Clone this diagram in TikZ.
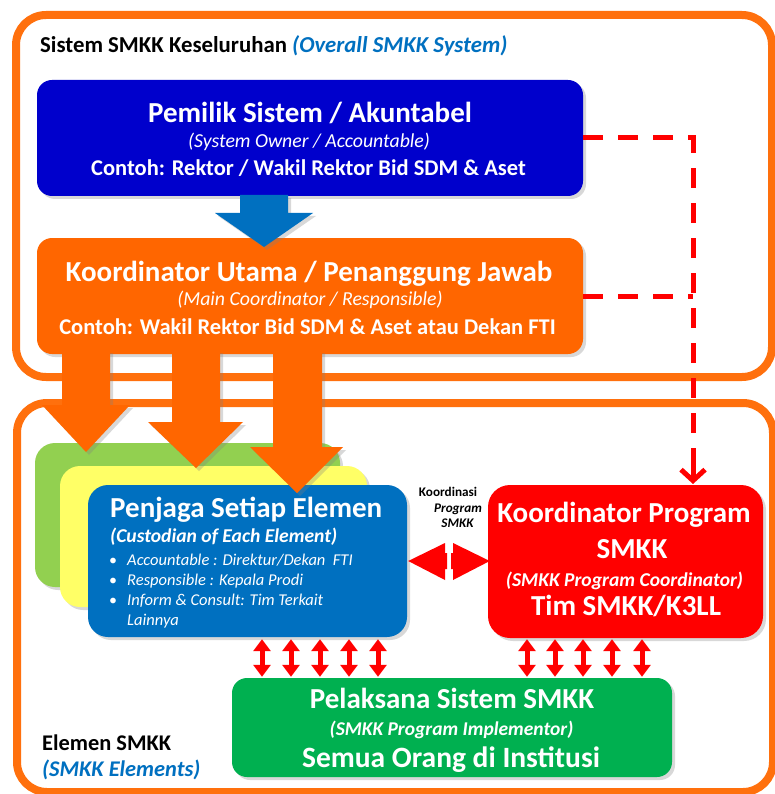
\documentclass[tikz,border=0pt]{standalone}
\usepackage{fontspec}
\setmainfont{Carlito}
\usetikzlibrary{shadows,arrows.meta,calc}
\definecolor{ownerblue}{HTML}{0000CC}
\definecolor{midblue}{HTML}{0070C0}
\definecolor{orng}{HTML}{FF6600}
\definecolor{frameorange}{HTML}{FF700D}
\definecolor{rd}{HTML}{FF0000}
\definecolor{grn}{HTML}{00B050}
\definecolor{lgrn}{HTML}{92D050}
\definecolor{yel}{HTML}{FFFF66}
\newcommand\fsz[1]{\fontsize{#1}{#1}\selectfont}
\tikzset{
  box/.style={rectangle, rounded corners=15pt, draw=none, inner sep=0pt,
    drop shadow={shadow xshift=3pt, shadow yshift=-3pt, opacity=0.3}},
  frame/.style={draw=frameorange, line width=8pt, rounded corners=30pt},
  txt/.style={anchor=base, inner sep=0pt, text=white},
  lbl/.style={anchor=base west, inner sep=0pt, text=black},
  dashlink/.style={draw=rd, line width=5pt, dash pattern=on 20pt off 15pt},
  vdbl/.style={draw=rd, line width=5pt,
    {Triangle[length=12pt,width=17pt]}-{Triangle[length=12pt,width=17pt]}},
  blockarrow/.style={draw=none, drop shadow={shadow xshift=3pt, shadow yshift=-3pt, opacity=0.3}},
}
\begin{document}
\begin{tikzpicture}[x=1pt,y=-1pt]
\useasboundingbox (0,0) rectangle (775,794);
\clip (0,0) rectangle (775,794);
\fill[white] (0,0) rectangle (775,794);

% frames
\draw[frame] (16,15) rectangle (772,377);
\draw[frame] (17,403) rectangle (773,792);

% header labels
\node[lbl, font=\fsz{22.8}\bfseries] (hdr) at (40,53) {Sistem SMKK Keseluruhan \textcolor{midblue}{\itshape(Overall SMKK System)}};
\node[lbl, font=\fsz{22.4}\bfseries] (elm1) at (42,750) {Elemen SMKK};
\node[lbl, font=\fsz{22.4}\bfseries\itshape, text=midblue] (elm2) at (42,776) {(SMKK Elements)};

% top boxes
\node[box, fill=ownerblue, minimum width=546pt, minimum height=116pt] (owner) at (310,138) {};
\node[box, fill=orng, minimum width=546pt, minimum height=116pt] (coord) at (310,296) {};

% element stack
\node[box, fill=lgrn, rounded corners=20pt, minimum width=305pt, minimum height=144pt] (back1) at (187.5,515) {};
\node[box, fill=yel, rounded corners=20pt, minimum width=307pt, minimum height=141pt] (back2) at (213.5,536.5) {};
\node[box, fill=midblue, rounded corners=20pt, minimum width=319pt, minimum height=152pt] (elem) at (247.5,561) {};

% program coordinator
\node[box, fill=rd, rounded corners=22pt, minimum width=275pt, minimum height=153pt] (prog) at (625.5,561.5) {};

% implementor
\node[box, fill=grn, rounded corners=15pt, minimum width=440pt, minimum height=99pt] (impl) at (452,727.5) {};

% block arrows
\fill[blockarrow, fill=midblue] (240,195) -- (288,195) -- (288,213) -- (313,213) -- (264,247) -- (215,213) -- (240,213) -- cycle;
\fill[blockarrow, fill=orng] (62,350) -- (110,350) -- (110,405) -- (130,405) -- (86,452) -- (42,405) -- (62,405) -- cycle;
\fill[blockarrow, fill=orng] (172,350) -- (220,350) -- (220,422) -- (243,422) -- (196,468) -- (148,422) -- (172,422) -- cycle;
\fill[blockarrow, fill=orng] (273,350) -- (322,350) -- (322,447) -- (343,447) -- (297,493) -- (250,447) -- (273,447) -- cycle;

% texts: owner
\node[txt, font=\fsz{29}\bfseries] (o1) at (310,123) {Pemilik Sistem / Akuntabel};
\node[txt, font=\fsz{19.8}\itshape] (o2) at (309,148) {(System Owner / Accountable)};
\node[txt, font=\fsz{22.5}\bfseries] (o3) at (308.5,176) {Contoh: Rektor / Wakil Rektor Bid SDM \& Aset};

% texts: coordinator
\node[txt, font=\fsz{29}\bfseries] (c1) at (309,281) {Koordinator Utama / Penanggung Jawab};
\node[txt, font=\fsz{19.8}\itshape] (c2) at (310,305) {(Main Coordinator / Responsible)};
\node[txt, font=\fsz{22.5}\bfseries] (c3) at (307.5,334) {Contoh: Wakil Rektor Bid SDM \& Aset atau Dekan FTI};

% texts: element
\node[txt, anchor=base west, font=\fsz{29}\bfseries] (e1) at (110,517) {Penjaga Setiap Elemen};
\node[txt, anchor=base west, font=\fsz{19.6}\bfseries\itshape] (e2) at (110,542) {(Custodian of Each Element)};
\node[txt, font=\fsz{16}] (b1) at (113,565) {•};
\node[txt, font=\fsz{16}] (b2) at (113,585) {•};
\node[txt, font=\fsz{16}] (b3) at (113,605) {•};
\node[txt, anchor=base west, font=\fsz{16.5}\itshape] (e3) at (127,565) {Accountable : Direktur/Dekan\ \ FTI};
\node[txt, anchor=base west, font=\fsz{16.5}\itshape] (e4) at (127,585) {Responsible : Kepala Prodi};
\node[txt, anchor=base west, font=\fsz{16.5}\itshape] (e5) at (127,605) {Inform \& Consult: Tim Terkait};
\node[txt, anchor=base west, font=\fsz{16.5}\itshape] (e6) at (127,625) {Lainnya};

% texts: program
\node[txt, font=\fsz{29}\bfseries] (p1) at (624,522) {Koordinator Program};
\node[txt, font=\fsz{29}\bfseries] (p2) at (632,558) {SMKK};
\node[txt, font=\fsz{19.6}\bfseries\itshape] (p3) at (624.5,586) {(SMKK Program Coordinator)};
\node[txt, font=\fsz{29}\bfseries] (p4) at (626,615) {Tim SMKK/K3LL};

% texts: implementor
\node[txt, font=\fsz{29}\bfseries] (i1) at (452,708) {Pelaksana Sistem SMKK};
\node[txt, font=\fsz{19.5}\bfseries\itshape] (i2) at (451.5,735) {(SMKK Program Implementor)};
\node[txt, font=\fsz{29.5}\bfseries] (i3) at (451,767) {Semua Orang di Institusi};

% koordinasi label
\node[lbl, anchor=base, font=\fsz{13.2}\bfseries] (k1) at (448,496) {Koordinasi};
\node[lbl, anchor=base, font=\fsz{13.2}\bfseries\itshape] (k2) at (458,512) {Program};
\node[lbl, anchor=base, font=\fsz{13.2}\bfseries\itshape] (k3) at (457.5,527) {SMKK};

% horizontal double arrow
\fill[rd] (elem.east |- 0,561) ++(1,0) coordinate (hl) -- (445,543) -- (445,553) -- (447,553) -- (447,569) -- (445,569) -- (445,580) -- cycle;
\fill[rd] (prog.west |- 0,561) ++(2,0) coordinate (hr) -- (453,543) -- (453,553) -- (451,553) -- (451,569) -- (453,569) -- (453,580) -- cycle;

% dashed links
\coordinate (dtip) at (693,484);
\draw[dashlink] (owner.east) -- (owner.east -| dtip) -- ($(dtip)+(0,-6)$);
\draw[dashlink] (coord.east) -- (coord.east -| dtip);
\draw[draw=rd, line width=5pt, -{Straight Barb[length=11pt,width=24pt]}] ($(dtip)+(0,-20)$) -- (dtip);

% vertical small double arrows
\foreach \xx [count=\i] in {262,291,320,349,378,527,555,583,612,642} {
  \coordinate (va\i) at (\xx,0);
}
\foreach \i in {1,...,5} {
  \draw[vdbl] ($(elem.south -| va\i)+(0,2)$) -- ($(impl.north -| va\i)+(0,-1)$);
}
\foreach \i in {6,...,10} {
  \draw[vdbl] ($(prog.south -| va\i)+(0,1)$) -- ($(impl.north -| va\i)+(0,-1)$);
}
\end{tikzpicture}
\end{document}
